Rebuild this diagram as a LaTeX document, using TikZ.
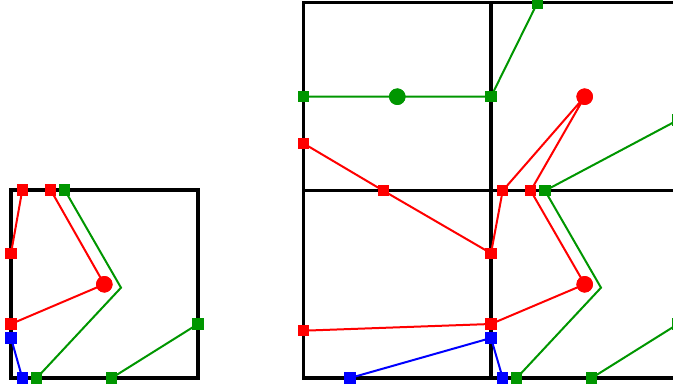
\documentclass[tikz,border=0pt]{standalone}
\begin{document}
\begin{tikzpicture}[x=1pt,y=-1pt,
  frame/.style={line width=3.2pt,black},
  rline/.style={line width=2pt,draw={rgb,255:red,255;green,0;blue,0}},
  gline/.style={line width=2pt,draw={rgb,255:red,0;green,150;blue,0}},
  bline/.style={line width=2pt,draw={rgb,255:red,0;green,0;blue,255}},
  mk/.style={rectangle,minimum size=11.5pt,inner sep=0pt,draw=none},
  rsq/.style={mk,fill={rgb,255:red,255;green,0;blue,0}},
  gsq/.style={mk,fill={rgb,255:red,0;green,150;blue,0}},
  bsq/.style={mk,fill={rgb,255:red,0;green,0;blue,255}},
  dot/.style={circle,minimum size=16.5pt,inner sep=0pt,draw=none},
  rdot/.style={dot,fill={rgb,255:red,255;green,0;blue,0}},
  gdot/.style={dot,fill={rgb,255:red,0;green,150;blue,0}}]
\useasboundingbox (0,0) rectangle (673,387);
\clip (0,0) rectangle (673,387);
% frames
\draw[frame] (11,190) rectangle (198,378);
\draw[frame] (303.3,2.7) rectangle (678,378);
\draw[frame] (491,2.7) -- (491,378);
\draw[frame] (303.3,190.7) -- (678,190.7);
% left square points
\coordinate (gb) at (121,287.7);
\node[rsq] (r1) at (22.3,190) {};
\node[rsq] (r2) at (50.7,190) {};
\node[gsq] (g1) at (64.7,190) {};
\node[rsq] (r3) at (11,253.3) {};
\node[rdot] (rc) at (104.3,284.3) {};
\node[rsq] (r4) at (11,324) {};
\node[bsq] (b1) at (11,338) {};
\node[bsq] (b2) at (22.3,378) {};
\node[gsq] (g2) at (36.7,378) {};
\node[gsq] (g3) at (111.7,378) {};
\node[gsq] (g4) at (198,324) {};
% right grid points
\coordinate (bgb) at (601,287.7);
\node[rsq] (br1) at (502.7,190.7) {};
\node[rsq] (br2) at (530.7,190.7) {};
\node[gsq] (bg1) at (545,190.7) {};
\node[rsq] (br3) at (491,253.3) {};
\node[rdot] (brc) at (584.7,284.3) {};
\node[rsq] (br4) at (491,324) {};
\node[bsq] (bb1) at (491,338) {};
\node[bsq] (bb2) at (502.7,378) {};
\node[gsq] (bg2) at (516.7,378) {};
\node[gsq] (bg3) at (591.7,378) {};
\node[gsq] (bg4) at (678,324) {};
\node[gsq] (tg1) at (303.3,96.7) {};
\node[gdot] (tgc) at (397.3,96.7) {};
\node[gsq] (tg2) at (491,96.7) {};
\node[gsq] (tg3) at (537.3,3) {};
\node[rdot] (trc) at (584.7,96.7) {};
\node[rsq] (tr1) at (303.3,143.3) {};
\node[rsq] (tr2) at (383.3,190.7) {};
\node[gsq] (tg4) at (678,120) {};
\node[rsq] (blr) at (303.3,330.7) {};
\node[bsq] (blb) at (350,378) {};
% connectors
\draw[rline] (r1.center) -- (r3.center);
\draw[rline] (r2.center) -- (rc.center) -- (r4.center);
\draw[gline] (g1.center) -- (gb) -- (g2.center);
\draw[gline] (g3.center) -- (g4.center);
\draw[bline] (b1.center) -- (b2.center);
\draw[rline] (tr1.center) -- (tr2.center) -- (br3.center) -- (br1.center) -- (trc.center) -- (br2.center) -- (brc.center) -- (br4.center) -- (blr.center);
\draw[gline] (tg1.center) -- (tgc.center) -- (tg2.center) -- (tg3.center);
\draw[gline] (bg1.center) -- (tg4.center);
\draw[gline] (bg1.center) -- (bgb) -- (bg2.center);
\draw[gline] (bg3.center) -- (bg4.center);
\draw[bline] (blb.center) -- (bb1.center) -- (bb2.center);
% markers on top of the connectors
\foreach \n/\s in {r1/rsq,r2/rsq,g1/gsq,r3/rsq,rc/rdot,r4/rsq,b1/bsq,b2/bsq,g2/gsq,g3/gsq,g4/gsq,
  br1/rsq,br2/rsq,bg1/gsq,br3/rsq,brc/rdot,br4/rsq,bb1/bsq,bb2/bsq,bg2/gsq,bg3/gsq,bg4/gsq,
  tg1/gsq,tgc/gdot,tg2/gsq,tg3/gsq,trc/rdot,tr1/rsq,tr2/rsq,tg4/gsq,blr/rsq,blb/bsq}
  \node[\s] at (\n.center) {};
\end{tikzpicture}
\end{document}
